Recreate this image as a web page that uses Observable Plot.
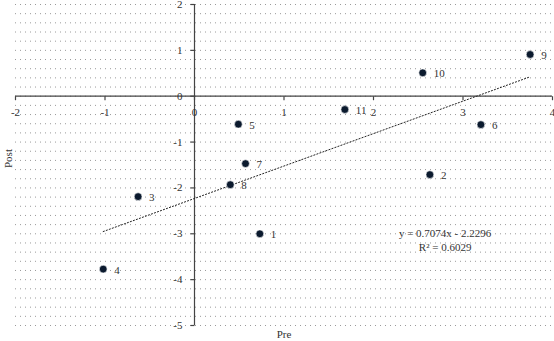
<!DOCTYPE html>
<html><head><meta charset="utf-8">
<script src="https://cdn.jsdelivr.net/npm/d3@7"></script>
<script src="https://cdn.jsdelivr.net/npm/@observablehq/plot@0.6"></script>
<style>body{margin:0;background:#fff}</style>
</head><body><div id="chart"></div>
<script>
const ids  = ["1", "2", "3", "4", "5", "6", "7", "8", "9", "10", "11"];
const pre  = [0.73, 2.63, -0.63, -1.02, 0.49, 3.20, 0.57, 0.40, 3.75, 2.55, 1.68];
const post = [-3.00, -1.71, -2.19, -3.77, -0.61, -0.62, -1.47, -1.93, 0.91, 0.51, -0.29];
const xTicks = [-2, -1, 0, 1, 2, 3, 4];
const yTicks = [2, 1, 0, -1, -2, -3, -4, -5];
const slope = 0.7074, intercept = -2.2296, r2 = 0.6029;
const eqLines = ["y = 0.7074x - 2.2296", "R\u00b2 = 0.6029"];
const eqPos = {x: 2.8, y: -3.13};
const xTitle = "Pre", yTitle = "Post";

const points = ids.map((id, i) => ({id, pre: pre[i], post: post[i]}));
const xMin = d3.min(pre), xMax = d3.max(pre);
const trend = [xMin, xMax].map(x => ({x, y: slope * x + intercept}));
const gridLevels = d3.range(-25, 11).map(k => k / 5);

const axisColor = "#444";
const tickDown = {draw(ctx) { ctx.moveTo(0, 0); ctx.lineTo(0, 4); }};
const tickLeft = {draw(ctx) { ctx.moveTo(0, 0); ctx.lineTo(-4, 0); }};

const chart = Plot.plot({
  width: 554, height: 341,
  marginLeft: 15, marginRight: 2, marginTop: 4, marginBottom: 16,
  x: {domain: [-2, 4], axis: null},
  y: {domain: [-5, 2], axis: null},
  style: {fontFamily: "'Liberation Serif', 'Times New Roman', serif", fontSize: "11px", color: "#333", background: "#fff", overflow: "visible"},
  marks: [
    Plot.ruleY(gridLevels, {y: d => d, stroke: "#9a9a9a", strokeDasharray: "1,4", strokeWidth: 1}),
    Plot.ruleY([0], {x1: -2, x2: 4, stroke: axisColor, strokeWidth: 1.2}),
    Plot.ruleX([0], {y1: -5, y2: 2, stroke: axisColor, strokeWidth: 1.2}),
    Plot.dot(xTicks, {x: d => d, y: 0, symbol: tickDown, fill: "none", stroke: axisColor, strokeWidth: 1.2}),
    Plot.dot(yTicks, {x: 0, y: d => d, symbol: tickLeft, fill: "none", stroke: axisColor, strokeWidth: 1.2}),
    Plot.text(xTicks, {x: d => d, y: 0, text: d => String(d), dy: 16, fill: "#333"}),
    Plot.text(yTicks, {x: 0, y: d => d, text: d => String(d), dx: -12, textAnchor: "end", fill: "#333"}),
    Plot.line(trend, {x: "x", y: "y", stroke: "#222", strokeWidth: 1, strokeDasharray: "1.2,2"}),
    Plot.dot(points, {x: "pre", y: "post", r: 3.9, fill: "#0b1a2e", stroke: "#fff", strokeWidth: 0.6}),
    Plot.text(points, {x: "pre", y: "post", text: "id", dx: 11, dy: 1, textAnchor: "start", fill: "#333"}),
    Plot.text([eqLines.join("\n")], {x: eqPos.x, y: eqPos.y, text: d => d, lineHeight: 1.2, textAnchor: "middle", fill: "#333"}),
    Plot.text([yTitle], {frameAnchor: "left", text: d => d, rotate: -90, dx: -7, dy: 3, fill: "#333"}),
    Plot.text([xTitle], {frameAnchor: "bottom", text: d => d, dy: 12, fill: "#333"})
  ]
});
document.getElementById("chart").appendChild(chart);
</script>
</body></html>
